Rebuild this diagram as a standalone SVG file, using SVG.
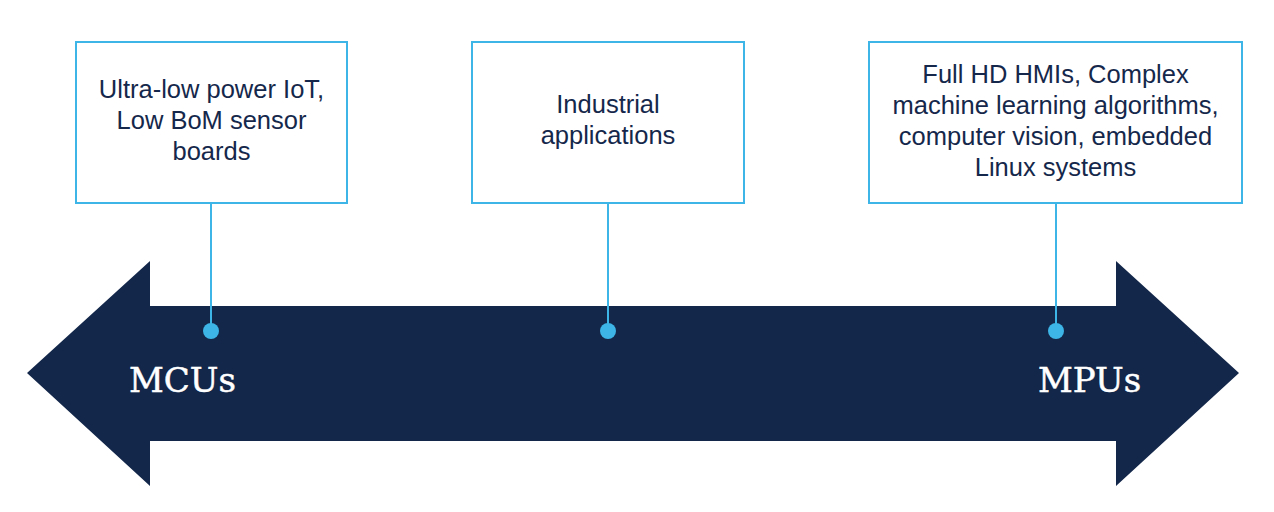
<svg xmlns="http://www.w3.org/2000/svg" width="1274" height="512" viewBox="0 0 1274 512">
<style>
.box{fill:#ffffff;stroke:#3db5e6;stroke-width:2}
.lbl{font-family:"Liberation Sans",Arial,sans-serif;font-size:25.5px;fill:#15284b;text-anchor:middle}
.big{font-family:"DejaVu Serif",serif;font-size:34px;fill:#ffffff;stroke:#ffffff;stroke-width:0.5}
.conn{stroke:#3db5e6;stroke-width:2;fill:none}
.dot{fill:#3db5e6}
</style>
<rect width="1274" height="512" fill="#ffffff"/>
<g id="arrow">
<polygon points="27,373 150,261 150,306 1116,306 1116,261 1239,373 1116,486 1116,441 150,441 150,486" fill="#13274a"/>
<text class="big" x="129" y="392">MCUs</text>
<text class="big" x="1038" y="392">MPUs</text>
</g>
<g id="connectors">
<line class="conn" x1="211" y1="203" x2="211" y2="331"/>
<circle class="dot" cx="211" cy="331" r="8"/>
<line class="conn" x1="608" y1="203" x2="608" y2="331"/>
<circle class="dot" cx="608" cy="331" r="8"/>
<line class="conn" x1="1056" y1="203" x2="1056" y2="331"/>
<circle class="dot" cx="1056" cy="331" r="8"/>
</g>
<g id="node-mcu">
<rect class="box" x="76" y="42" width="271" height="161"/>
<text class="lbl" x="211.5" y="98">Ultra-low power IoT,</text>
<text class="lbl" x="211.5" y="129">Low BoM sensor</text>
<text class="lbl" x="211.5" y="160">boards</text>
</g>
<g id="node-industrial">
<rect class="box" x="472" y="42" width="272" height="161"/>
<text class="lbl" x="608" y="113">Industrial</text>
<text class="lbl" x="608" y="144">applications</text>
</g>
<g id="node-mpu">
<rect class="box" x="869" y="42" width="373" height="161"/>
<text class="lbl" x="1055.5" y="83">Full HD HMIs, Complex</text>
<text class="lbl" x="1055.5" y="114">machine learning algorithms,</text>
<text class="lbl" x="1055.5" y="145">computer vision, embedded</text>
<text class="lbl" x="1055.5" y="176">Linux systems</text>
</g>
</svg>
